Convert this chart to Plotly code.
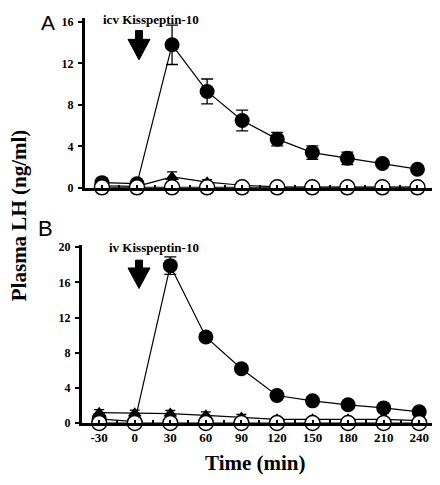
import plotly.graph_objects as go

# ---- data ----
time_min = [-30, 0, 30, 60, 90, 120, 150, 180, 210, 240]
x_tick_labels = ["-30", "0", "30", "60", "90", "120", "150", "180", "210", "240"]

# Panel A: icv Kisspeptin-10
a_kiss = [0.5, 0.4, 13.8, 9.3, 6.5, 4.7, 3.4, 2.85, 2.35, 1.8]
a_kiss_err = [0.15, 0.15, 1.9, 1.2, 1.0, 0.65, 0.65, 0.6, 0.3, 0.25]
a_tri = [0.2, 0.15, 1.05, 0.55, 0.25, 0.1, 0.08, 0.08, 0.08, 0.08]
a_tri_err = [0.1, 0.1, 0.5, 0.25, 0.15, 0.05, 0.05, 0.05, 0.05, 0.05]
a_open = [0.05, 0.05, 0.05, 0.05, 0.05, 0.05, 0.05, 0.05, 0.05, 0.05]
a_yticks = [0, 4, 8, 12, 16]

# Panel B: iv Kisspeptin-10
b_kiss = [0.5, 0.2, 17.9, 9.8, 6.2, 3.15, 2.55, 2.1, 1.75, 1.3]
b_kiss_err = [0.15, 0.1, 1.0, 0.5, 0.2, 0.15, 0.15, 0.1, 0.1, 0.1]
b_tri = [1.2, 1.15, 1.1, 0.9, 0.65, 0.45, 0.45, 0.45, 0.45, 0.3]
b_tri_err = [0.35, 0.35, 0.35, 0.4, 0.35, 0.15, 0.1, 0.1, 0.1, 0.1]
b_open = [0.03, 0.03, 0.03, 0.03, 0.03, 0.03, 0.03, 0.03, 0.03, 0.03]
b_yticks = [0, 4, 8, 12, 16, 20]

# page has an 8px body margin; figure fills the rest of the 440x485 window
OFF = 8
W, H = 440 - OFF, 485 - OFF
def px(x):
    return (x - OFF) / W
def py(y):
    return 1 - (y - OFF) / H

SERIF = "Liberation Serif"
fig = go.Figure()

def add_panel(xa, ya, kiss, kiss_err, tri, tri_err, opn):
    fig.add_trace(go.Scatter(
        x=time_min, y=kiss, mode="lines+markers", xaxis=xa, yaxis=ya,
        line=dict(color="black", width=1.2),
        marker=dict(symbol="circle", size=15, color="black"),
        error_y=dict(type="data", array=kiss_err, color="black", thickness=1.3, width=6),
        cliponaxis=False, showlegend=False))
    fig.add_trace(go.Scatter(
        x=time_min, y=tri, mode="lines+markers", xaxis=xa, yaxis=ya,
        line=dict(color="black", width=1.2),
        marker=dict(symbol="triangle-up", size=12, color="black"),
        error_y=dict(type="data", array=tri_err, color="black", thickness=1.3, width=5),
        cliponaxis=False, showlegend=False))
    fig.add_trace(go.Scatter(
        x=time_min, y=opn, mode="lines+markers", xaxis=xa, yaxis=ya,
        line=dict(color="black", width=1.2),
        marker=dict(symbol="circle", size=15, color="white",
                    line=dict(color="black", width=1.5)),
        cliponaxis=False, showlegend=False))

add_panel("x", "y", a_kiss, a_kiss_err, a_tri, a_tri_err, a_open)
add_panel("x2", "y2", b_kiss, b_kiss_err, b_tri, b_tri_err, b_open)

xrange = [-44.5, 255]
common_x = dict(range=xrange, showline=True, linewidth=3, linecolor="black",
                ticks="inside", ticklen=3, tickwidth=2, tickcolor="black",
                tickvals=time_min, ticktext=x_tick_labels,
                minor=dict(ticks="inside", dtick=15, tick0=-30, ticklen=3,
                           tickwidth=2, tickcolor="black"),
                showgrid=False, zeroline=False, fixedrange=True)
common_y = dict(showline=True, linewidth=3, linecolor="black",
                ticks="outside", ticklen=4, tickwidth=2, tickcolor="black",
                showgrid=False, zeroline=False, ticklabelstandoff=2,
                tickfont=dict(family=SERIF, size=12, color="black", weight="bold"))

fig.update_layout(
    width=W, height=H, margin=dict(l=0, r=0, t=0, b=0),
    paper_bgcolor="white", plot_bgcolor="white",
    xaxis=dict(common_x, domain=[px(85), px(435)], anchor="y", showticklabels=False),
    yaxis=dict(common_y, domain=[py(188), py(14)], anchor="x", range=[0, 16.4],
               tickvals=a_yticks),
    xaxis2=dict(common_x, domain=[px(82), px(437)], anchor="y2", showticklabels=True,
                tickfont=dict(family=SERIF, size=13, color="black", weight="bold")),
    yaxis2=dict(common_y, domain=[py(429), py(246)], anchor="x2", range=[0, 20.3],
                tickvals=b_yticks),
)

# big down arrows (injection time)
def arrow(cx, top, head, tip, shaft_hw=3.5, head_hw=11):
    path = (f"M {px(cx-shaft_hw)} {py(top)} L {px(cx+shaft_hw)} {py(top)} "
            f"L {px(cx+shaft_hw)} {py(head)} L {px(cx+head_hw)} {py(head)} "
            f"L {px(cx)} {py(tip)} L {px(cx-head_hw)} {py(head)} "
            f"L {px(cx-shaft_hw)} {py(head)} Z")
    fig.add_shape(type="path", path=path, xref="paper", yref="paper",
                  fillcolor="black", line=dict(color="black", width=1))

arrow(139, 27, 36, 57)
arrow(139, 262, 270, 291)

ann = [
    dict(text="icv Kisspeptin-10", x=px(151), y=py(16), size=13, family=SERIF, bold=True),
    dict(text="iv Kisspeptin-10", x=px(154), y=py(249), size=13, family=SERIF, bold=True),
    dict(text="A", x=px(48), y=py(19), size=21, family="Liberation Sans", bold=False),
    dict(text="B", x=px(45), y=py(230), size=22, family="Liberation Sans", bold=False),
    dict(text="Time (min)", x=px(255), y=py(470), size=21, family=SERIF, bold=True),
]
for a in ann:
    fig.add_annotation(text=a["text"], x=a["x"], y=a["y"], xref="paper", yref="paper",
                       showarrow=False, xanchor="center", yanchor="middle",
                       font=dict(family=a["family"], size=a["size"], color="black",
                                 weight="bold" if a["bold"] else "normal"))
fig.add_annotation(text="Plasma LH (ng/ml)", x=px(19), y=py(216), xref="paper", yref="paper",
                   showarrow=False, textangle=-90, xanchor="center", yanchor="middle",
                   font=dict(family=SERIF, size=21, color="black", weight="bold"))

fig.write_html("out.html")
